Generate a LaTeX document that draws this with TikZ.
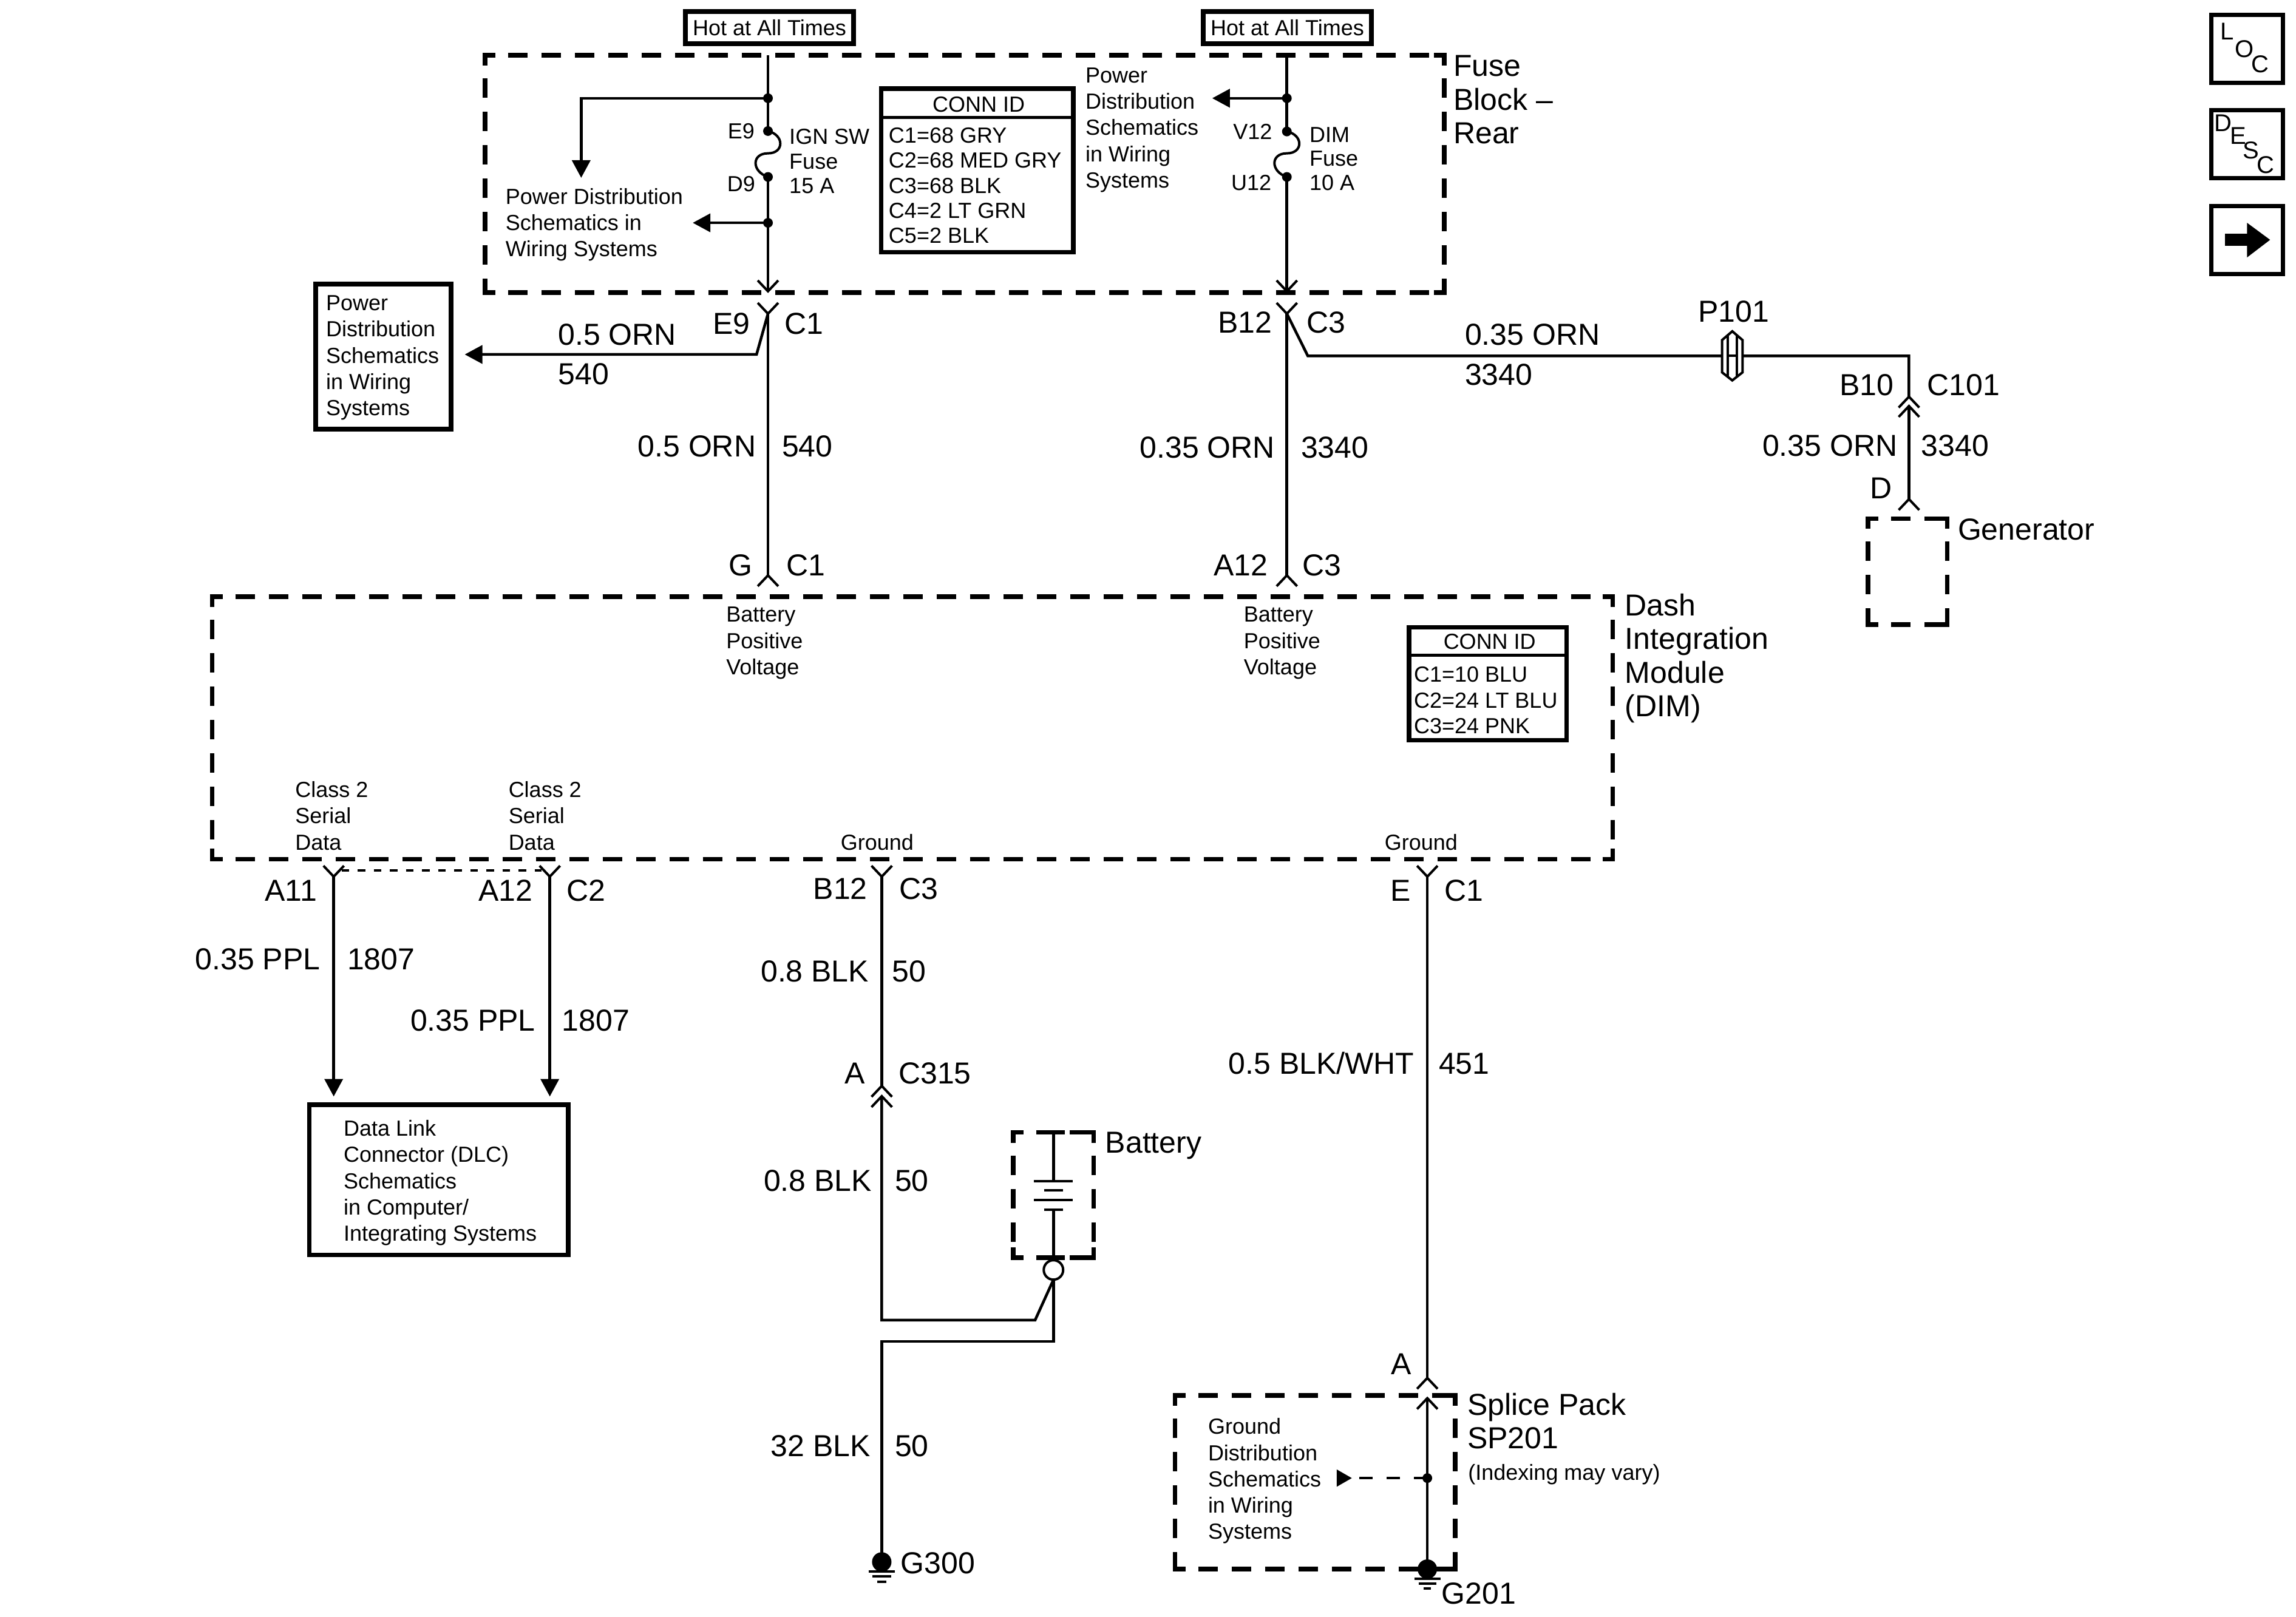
\documentclass[tikz,border=0pt]{standalone}
\usepackage{fontspec}
\setmainfont{Liberation Sans}
\usetikzlibrary{arrows.meta}
\tikzset{
  wire/.style={line width=0.9pt,line join=miter},
  thinwire/.style={line width=0.8pt},
  arr/.style={wire,-{Triangle[length=5.8pt,width=6pt]}},
  chev/.style={line width=0.8pt,line join=miter},
  chevdown/.pic={\draw[chev] (-7,-7.4) -- (0,0) -- (7,-7.4);},
  chevup/.pic={\draw[chev] (-7,7.4) -- (0,0) -- (7,7.4);},
  dbox/.style={line width=1.5pt,dash pattern=on 6.4pt off 4.6pt,dash phase=3.4pt},
  dcorner/.style={line width=1.5pt,line join=miter},
  hbox/.style={draw,line width=1.5pt,fill=white,inner sep=0pt,minimum width=55.4pt,minimum height=10.6pt,font=\fontsize{7.2}{8.6}\selectfont},
  sbox/.style={draw,line width=1.5pt},
  dot/.style={circle,fill=black,inner sep=0pt,minimum size=3.2pt},
  bigdot/.style={circle,fill=black,inner sep=0pt,minimum size=6.4pt},
  ring/.style={circle,draw,line width=0.8pt,fill=white,inner sep=0pt,minimum size=6.4pt},
  bl/.style={anchor=west,inner sep=0pt,xshift=-0.5pt,yshift=0.4pt,font=\fontsize{10}{12}\selectfont,text height=7.16pt,text depth=0pt},
  br/.style={anchor=east,inner sep=0pt,yshift=0.4pt,font=\fontsize{10}{12}\selectfont,text height=7.16pt,text depth=0pt},
  bc/.style={anchor=center,inner sep=0pt,yshift=0.4pt,font=\fontsize{10}{12}\selectfont,text height=7.16pt,text depth=0pt},
  sl/.style={anchor=west,inner sep=0pt,xshift=-0.5pt,font=\fontsize{7.2}{8.6}\selectfont,text height=5.16pt,text depth=0pt},
  sr/.style={anchor=east,inner sep=0pt,font=\fontsize{7.2}{8.6}\selectfont,text height=5.16pt,text depth=0pt},
  sc/.style={anchor=center,inner sep=0pt,font=\fontsize{7.2}{8.6}\selectfont,text height=5.16pt,text depth=0pt},
  ml/.style={anchor=north west,inner sep=0pt,xshift=-0.5pt,align=left,font=\fontsize{7.2}{8.65}\selectfont},
  mb/.style={anchor=north west,inner sep=0pt,xshift=-0.5pt,align=left,font=\fontsize{10}{11.1}\selectfont},
  letter/.style={anchor=center,inner sep=0pt,font=\fontsize{8}{9}\selectfont},
}
\newcommand\dbx[4]{%
  \draw[dbox] (#1,#2) -- (#3,#2);
  \draw[dbox] (#1,#4) -- (#3,#4);
  \draw[dbox] (#1,#2) -- (#1,#4);
  \draw[dbox] (#3,#2) -- (#3,#4);
  \draw[dcorner] ({#1+7},#2) -- (#1,#2) -- (#1,{#2+7});
  \draw[dcorner] ({#3-7},#2) -- (#3,#2) -- (#3,{#2+7});
  \draw[dcorner] ({#1+7},#4) -- (#1,#4) -- (#1,{#4-7});
  \draw[dcorner] ({#3-7},#4) -- (#3,#4) -- (#3,{#4-7});
}
\begin{document}
\begin{tikzpicture}[x=0.483pt,y=-0.483pt]
\useasboundingbox (0,0) rectangle (1566,1103);
\fill[white] (0,0) rectangle (1566,1103);

% ---------- Fuse block
\dbx{330.8}{37.7}{985}{199.6}
\node[hbox] (hotL) at (524.8,18.8) {Hot at All Times};
\node[hbox] (hotR) at (878,18.8) {Hot at All Times};
\node[mb] (fbname) at (992,37.5) {Fuse\\Block --\\Rear};

% left feed
\coordinate (Ltop) at (523.8,37.7);
\node[dot] (jL1) at (523.8,67) {};
\node[dot] (jE9) at (523.8,89.4) {};
\node[dot] (jD9) at (523.8,120.7) {};
\node[dot] (jL2) at (523.8,152) {};
\coordinate (Lend) at (523.8,198.7);
\coordinate (Lcorner) at (396.4,67);
\coordinate (Ldown) at (396.4,121.3);
\coordinate (Lleft) at (472.5,152);
\draw[wire] (Ltop) -- (jL1.center) -- (jE9.center);
\draw[thinwire] (jE9.center) .. controls (535,92) and (535,104.6) .. (523.8,104.6) .. controls (512.5,104.6) and (512.5,117) .. (jD9.center);
\draw[wire] (jD9.center) -- (jL2.center) -- (Lend);
\draw[arr] (jL1.center) -- (Lcorner) -- (Ldown);
\draw[arr] (jL2.center) -- (Lleft);
\pic at (Lend) {chevdown};
\node[sr] (tE9) at (515,89.4) {E9};
\node[sr] (tD9) at (515.5,125.5) {D9};
\node[sl] (tign) at (539,93.2) {IGN SW};
\node[sl] (tfuse1) at (539,110) {Fuse};
\node[sl] (t15) at (539,126.4) {15 A};
\node[ml] (pd1) at (345.5,128.1) {Power Distribution\\Schematics in\\Wiring Systems};

% conn id 1
\draw[sbox] (601,60.5) rectangle (732,172);
\draw[wire,line width=1pt] (601,80) -- (732,80);
\node[sc] (cid1) at (667.5,71) {CONN ID};
\node[sl] (c11) at (606.8,92.2) {C1=68 GRY};
\node[sl] (c12) at (606.8,109.3) {C2=68 MED GRY};
\node[sl] (c13) at (606.8,126.4) {C3=68 BLK};
\node[sl] (c14) at (606.8,143.5) {C4=2 LT GRN};
\node[sl] (c15) at (606.8,160.5) {C5=2 BLK};

% right feed
\coordinate (Rtop) at (877.7,37.7);
\node[dot] (jR1) at (877.7,67) {};
\node[dot] (jV12) at (877.7,89.7) {};
\node[dot] (jU12) at (877.7,120.7) {};
\coordinate (Rend) at (877.7,198.7);
\coordinate (Rleft) at (826.8,67);
\draw[wire] (Rtop) -- (jR1.center) -- (jV12.center);
\draw[thinwire] (jV12.center) .. controls (889,92) and (889,104.6) .. (877.7,104.6) .. controls (866.4,104.6) and (866.4,117) .. (jU12.center);
\draw[wire] (jU12.center) -- (Rend);
\draw[arr] (jR1.center) -- (Rleft);
\pic at (Rend) {chevdown};
\node[sr] (tV12) at (868,89.7) {V12};
\node[sr] (tU12) at (867.5,124.5) {U12};
\node[sl] (tdim) at (893.8,91.6) {DIM};
\node[sl] (tfuse2) at (893.8,108) {Fuse};
\node[sl] (t10) at (893.8,124.5) {10 A};
\node[ml] (pd2) at (741,45.8) {Power\\Distribution\\Schematics\\in Wiring\\Systems};

% ---------- connectors below fuse block
\coordinate (aE9) at (523.8,214);
\coordinate (bG) at (523.8,392.5);
\coordinate (kE9) at (516,241.8);
\coordinate (tipPD) at (317,241.8);
\pic at (aE9) {chevdown};
\pic at (bG) {chevup};
\draw[wire] (aE9) -- (bG);
\draw[wire,-{Triangle[length=5.8pt,width=6pt]}] (aE9) -- (kE9) -- (tipPD);
\node[draw,line width=1.5pt,minimum width=44.6pt,minimum height=47.8pt,inner sep=0pt] (pdbox) at (261.5,243.3) {};
\node[ml] (pd3) at (223,201.2) {Power\\Distribution\\Schematics\\in Wiring\\Systems};
\node[br] (lE9) at (512,221.5) {E9};
\node[bl] (lC1a) at (535.6,221.5) {C1};
\node[bl] (w1) at (381.4,229) {0.5 ORN};
\node[bl] (w1n) at (381.4,255.7) {540};
\node[br] (w2) at (516,305) {0.5 ORN};
\node[bl] (w2n) at (534,305) {540};
\node[bc] (lG) at (505,386) {G};
\node[bl] (lC1b) at (537,386) {C1};

\coordinate (aB12) at (877.7,214);
\coordinate (bA12) at (877.7,392.5);
\coordinate (kB12) at (892,242.8);
\coordinate (kP) at (1302,242.8);
\coordinate (a10) at (1302,270.6);
\coordinate (a10b) at (1302,277);
\coordinate (aD) at (1302,340.5);
\pic at (aB12) {chevdown};
\pic at (bA12) {chevup};
\draw[wire] (aB12) -- (bA12);
\draw[wire] (aB12) -- (kB12) -- (kP) -- (a10);
\pic at (a10) {chevup};
\pic at (a10b) {chevup};
\draw[wire] (a10b) -- (aD);
\pic at (aD) {chevup};
% P101
\coordinate (p) at (1181.5,242.8);
\fill[white] (1174.5,232) -- (1181.5,226) -- (1188.5,232) -- (1188.5,254) -- (1181.5,259.5) -- (1174.5,254) -- cycle;
\draw[line width=0.8pt] (1174.5,232) -- (1181.5,226) -- (1188.5,232) -- (1188.5,254) -- (1181.5,259.5) -- (1174.5,254) -- cycle;
\draw[line width=0.8pt] (1178.5,229) -- (1178.5,257) (1184.5,229) -- (1184.5,257) (1178.5,242.8) -- (1184.5,242.8);
\node[bc] (lP101) at (1182.5,213) {P101};
\node[br] (lB12) at (868,220.5) {B12};
\node[bl] (lC3a) at (892,220.5) {C3};
\node[bl] (w3) at (999.8,229) {0.35 ORN};
\node[bl] (w3n) at (999.8,256) {3340};
\node[br] (w4) at (870,306) {0.35 ORN};
\node[bl] (w4n) at (888,306) {3340};
\node[br] (lA12a) at (865,386) {A12};
\node[bl] (lC3b) at (889,386) {C3};
\node[br] (lB10) at (1292,263) {B10};
\node[bl] (lC101) at (1315,263) {C101};
\node[br] (w5) at (1294.5,304.4) {0.35 ORN};
\node[bl] (w5n) at (1311,304.4) {3340};
\node[bc] (lD) at (1283,333.6) {D};
\dbx{1274}{353.8}{1328}{426}
\node[bl] (lgen) at (1336,361.6) {Generator};

% ---------- DIM
\dbx{144.8}{407}{1100}{586}
\node[mb] (dimname) at (1109,404.5) {Dash\\Integration\\Module\\(DIM)};
\node[ml] (bpv1) at (496,413.7) {Battery\\Positive\\Voltage};
\node[ml] (bpv2) at (849,413.7) {Battery\\Positive\\Voltage};
\node[ml] (cs1) at (202,532.7) {Class 2\\Serial\\Data};
\node[ml] (cs2) at (347.5,532.7) {Class 2\\Serial\\Data};
\node[sl] (gnd1) at (574,574.5) {Ground};
\node[sl] (gnd2) at (945,574.5) {Ground};
\draw[sbox] (961,428) rectangle (1068.5,505);
\draw[line width=1pt] (961,447) -- (1068.5,447);
\node[sc] (cid2) at (1016,437.5) {CONN ID};
\node[sl] (c21) at (965,460) {C1=10 BLU};
\node[sl] (c22) at (965,477.5) {C2=24 LT BLU};
\node[sl] (c23) at (965,495) {C3=24 PNK};

% ---------- Class 2 wires
\coordinate (aA11) at (227.6,598);
\coordinate (aA12) at (375,598);
\coordinate (eA11) at (227.6,748);
\coordinate (eA12) at (375,748);
\coordinate (dl1) at (233,593.8);
\coordinate (dl2) at (369.5,593.8);
\pic at (aA11) {chevdown};
\pic at (aA12) {chevdown};
\draw[arr] (aA11) -- (eA11);
\draw[arr] (aA12) -- (eA12);
\draw[line width=0.7pt,dash pattern=on 2.5pt off 2.8pt] (dl1) -- (dl2);
\node[br] (lA11) at (216.5,608) {A11};
\node[br] (lA12b) at (363.6,608) {A12};
\node[bl] (lC2) at (387,608) {C2};
\node[br] (w6) at (218.8,655) {0.35 PPL};
\node[bl] (w6n) at (237.5,655) {1807};
\node[br] (w7) at (365.5,696.8) {0.35 PPL};
\node[bl] (w7n) at (384,696.8) {1807};
\draw[sbox] (211,753.5) rectangle (387.5,856);
\node[ml] (dlc) at (235,763.7) {Data Link\\Connector (DLC)\\Schematics\\in Computer/\\Integrating Systems};

% ---------- Battery feed
\coordinate (aB12b) at (601.4,598);
\coordinate (a315) at (601.4,740.8);
\coordinate (a315b) at (601.4,747.8);
\coordinate (k1) at (601.4,900.5);
\coordinate (k2) at (706,900.5);
\coordinate (k3) at (718.5,915);
\coordinate (k4) at (601.4,915);
\node[bigdot] (g300) at (601.4,1065.5) {};
\node[ring] (bat) at (718.5,866.3) {};
\coordinate (batbot) at (718.5,873);
\pic at (aB12b) {chevdown};
\draw[wire] (aB12b) -- (a315);
\pic at (a315) {chevup};
\pic at (a315b) {chevup};
\draw[wire] (a315b) -- (k1) -- (k2) -- (batbot);
\draw[wire] (batbot) -- (k3) -- (k4) -- (g300.center);
\draw[thinwire] (592.4,1072) -- (610.4,1072) (595.1,1075.5) -- (607.7,1075.5) (598.4,1079) -- (604.4,1079);
\node[br] (lB12b) at (592,607) {B12};
\node[bl] (lC3c) at (614,607) {C3};
\node[br] (w8) at (593,663) {0.8 BLK};
\node[bl] (w8n) at (609,663) {50};
\node[br] (lAa) at (590.5,732.8) {A};
\node[bl] (lC315) at (613.5,732.8) {C315};
\node[br] (w9) at (595,806) {0.8 BLK};
\node[bl] (w9n) at (611,806) {50};
\node[br] (w10) at (594,987) {32 BLK};
\node[bl] (w10n) at (611,987) {50};
\node[bl] (lG300) at (615,1067) {G300};
% battery symbol
\dbx{691}{772.5}{746}{858}
\coordinate (btop) at (718.5,772.5);
\coordinate (bp1) at (718.5,805.8);
\coordinate (bp4) at (718.5,825.3);
\coordinate (bbot) at (718.5,858);
\draw[wire] (btop) -- (bp1);
\draw[wire] (bp4) -- (bbot);
\draw[dcorner] (710.7,772.5) -- (726.3,772.5);
\draw[dcorner] (710.7,858) -- (726.3,858);
\draw[thinwire] (705.3,805.8) -- (731.7,805.8) (712,812) -- (725,812) (705.3,818.6) -- (731.7,818.6) (712,825.3) -- (725,825.3);
\node[bl] (lbat) at (754.6,780) {Battery};

% ---------- Ground wire
\coordinate (aE) at (973.5,598);
\coordinate (aA) at (973.5,940);
\coordinate (tipS) at (973.5,953.8);
\node[dot] (jS) at (973.5,1008.3) {};
\node[bigdot] (g201) at (973.5,1070.4) {};
\coordinate (tri) at (922,1008.3);
\pic at (aE) {chevdown};
\draw[wire] (aE) -- (aA);
\pic at (aA) {chevup};
\dbx{801.5}{952}{992.5}{1070.4}
\draw[wire] (tipS) -- (g201.center);
\pic at (tipS) {chevup};
\draw[line width=0.9pt,dash pattern=on 4.5pt off 4.5pt] (jS.center) -- (tri);
\fill (tri) -- (911.7,1002.4) -- (911.7,1014.2) -- cycle;
\draw[thinwire] (964.6,1077) -- (982.4,1077) (967.5,1080.4) -- (979.5,1080.4) (970.9,1083.7) -- (976.1,1083.7);
\node[br] (lE) at (962.5,608) {E};
\node[bl] (lC1c) at (986,608) {C1};
\node[br] (w11) at (965,726) {0.5 BLK/WHT};
\node[bl] (w11n) at (982,726) {451};
\node[br] (lAb) at (963,931) {A};
\node[ml] (gd) at (824.6,967.2) {Ground\\Distribution\\Schematics\\in Wiring\\Systems};
\node[bl] (lsp1) at (1001.5,958.6) {Splice Pack};
\node[bl] (lsp2) at (1001.5,981.4) {SP201};
\node[sl] (lidx) at (1002,1004.2) {(Indexing may vary)};
\node[bl] (lG201) at (984,1087.6) {G201};

% ---------- side buttons
\draw[sbox] (1508.3,10.1) rectangle (1557.1,56.5);
\node[letter] (L1) at (1519,21.5) {L};
\node[letter] (L2) at (1531,33.5) {O};
\node[letter] (L3) at (1541.6,43.9) {C};
\draw[sbox] (1508.3,75.2) rectangle (1557.1,121.5);
\node[letter] (D1) at (1516.4,84) {D};
\node[letter] (D2) at (1526.6,92.8) {E};
\node[letter] (D3) at (1535.4,102.4) {S};
\node[letter] (D4) at (1545.3,112.7) {C};
\draw[sbox] (1508.3,140.6) rectangle (1557.1,187);
\fill (1517.6,159.4) rectangle (1533,167.7);
\fill (1532.6,152) -- (1548.3,163.6) -- (1532.6,175.6) -- cycle;
\end{tikzpicture}
\end{document}
